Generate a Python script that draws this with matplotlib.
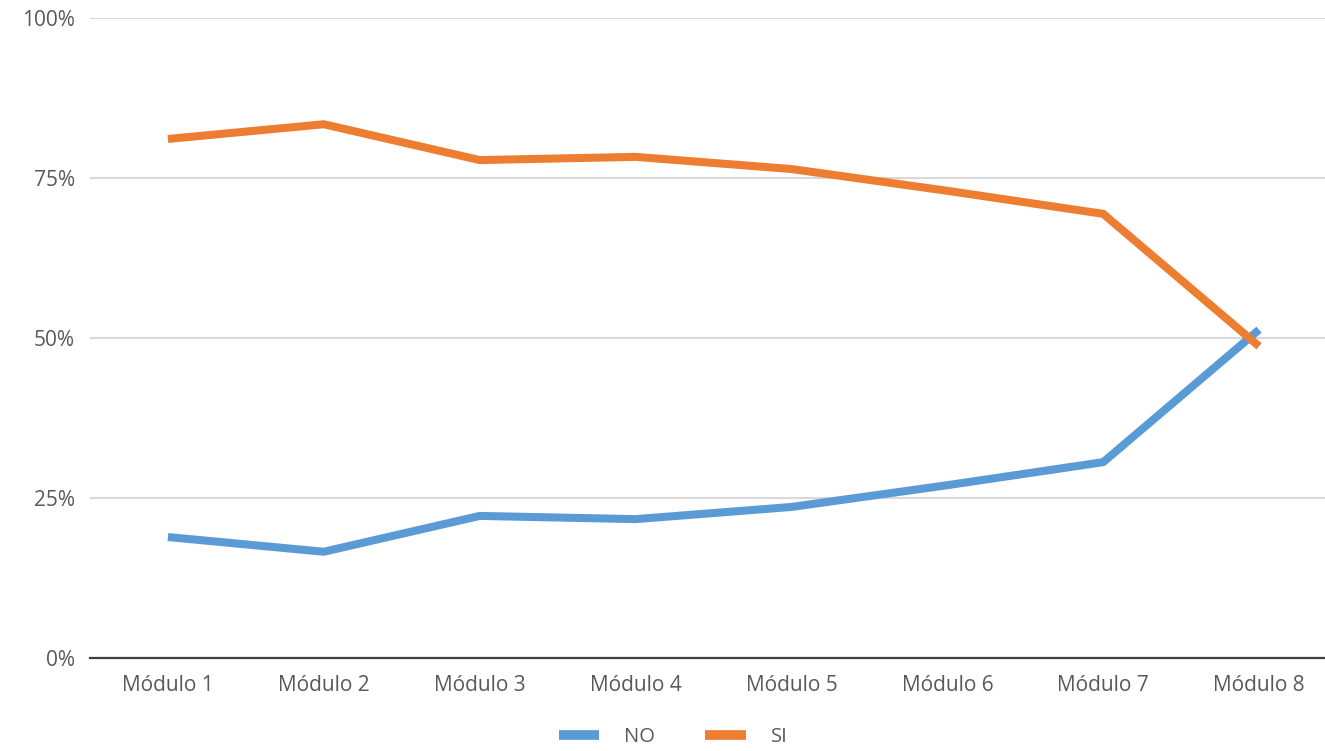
import numpy as np
import matplotlib.pyplot as plt
from matplotlib.ticker import PercentFormatter

modulos = ["Módulo 1", "Módulo 2", "Módulo 3", "Módulo 4",
           "Módulo 5", "Módulo 6", "Módulo 7", "Módulo 8"]
no_vals = [18.9, 16.6, 22.2, 21.7, 23.6, 27.0, 30.6, 51.3]
si_vals = [81.1, 83.4, 77.8, 78.3, 76.4, 73.0, 69.4, 48.7]

plt.rcParams['font.family'] = ['Open Sans', 'DejaVu Sans']

fig = plt.figure(figsize=(13.25, 7.51), dpi=100)
ax = fig.add_axes([90 / 1325, 1 - 658 / 751, 1247 / 1325, 640 / 751])

x = np.arange(len(modulos))
ax.plot(x, no_vals, color="#5B9BD5", lw=5.8, solid_capstyle="butt", label="NO")
ax.plot(x, si_vals, color="#ED7D31", lw=5.8, solid_capstyle="butt", label="SI")

ax.set_xlim(-0.5, len(modulos) - 0.5)
ax.set_ylim(0, 100)
ax.set_yticks([0, 25, 50, 75, 100])
ax.yaxis.set_major_formatter(PercentFormatter(decimals=0))
ax.set_xticks(x)
ax.set_xticklabels(modulos)

ax.grid(axis="y", color="#d9d9d9", lw=1.5)
ax.set_axisbelow(True)
for s in ["top", "right", "left"]:
    ax.spines[s].set_visible(False)
ax.spines["bottom"].set_color("#404040")
ax.spines["bottom"].set_linewidth(1.6)
ax.spines["bottom"].set_zorder(1)
ax.tick_params(length=0, labelsize=15, labelcolor="#595959", pad=12)
ax.tick_params(axis="y", pad=11)

leg = fig.legend(loc="lower center", bbox_to_anchor=(0.508, 0.0), ncol=2,
                 frameon=False, fontsize=14.5, handlelength=2.0,
                 columnspacing=2.5, handletextpad=1.25, borderaxespad=0.1,
                 borderpad=0.1)
for h in leg.legend_handles:
    h.set_linewidth(7)
for t in leg.get_texts():
    t.set_color("#595959")

fig.savefig("out.png", dpi=100)
